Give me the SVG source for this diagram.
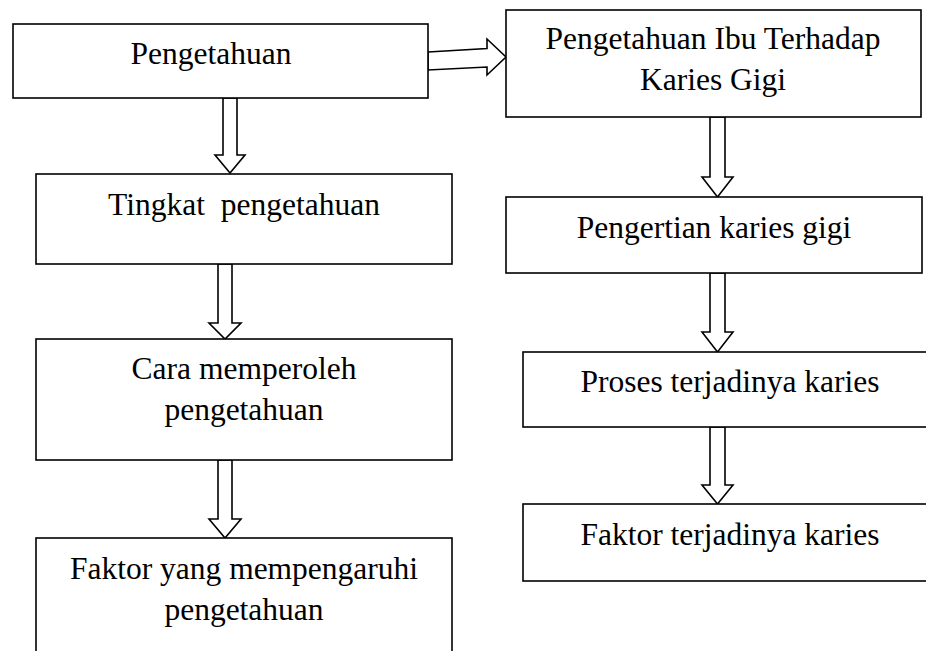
<svg xmlns="http://www.w3.org/2000/svg" width="926" height="651" viewBox="0 0 926 651">
<style>
.box{fill:#fff;stroke:#000;stroke-width:1.6}
.arr{fill:#fff;stroke:#000;stroke-width:1.6;stroke-linejoin:miter}
text{font-family:"Liberation Serif","Times New Roman",serif;font-size:31.5px;fill:#000;text-anchor:middle}
</style>
<rect width="926" height="651" fill="#fff"/>
<g id="connectors">
<polygon class="arr" points="428,52 487,48.5 487,39 506,57 487,75 487,67 428,70"/>
<polygon class="arr" points="223,98 237,98 237,155 245,155 230,173 215,155 223,155"/>
<polygon class="arr" points="218,264 232,264 232,323 241,323 225,339 209,323 218,323"/>
<polygon class="arr" points="218,460 232,460 232,519 241,519 225,538 209,519 218,519"/>
<polygon class="arr" points="710,117 725,117 725,177 733,177 717.5,197 702,177 710,177"/>
<polygon class="arr" points="710,273 725,273 725,332 733,332 717.5,352 702,332 710,332"/>
<polygon class="arr" points="710,427 725,427 725,485 733,485 717.5,504 702,485 710,485"/>
</g>
<g id="n1"><rect class="box" x="13" y="24" width="415" height="74"/><text x="211" y="64">Pengetahuan</text></g>
<g id="n2"><rect class="box" x="36" y="174" width="416" height="90"/><text x="244" y="215" xml:space="preserve">Tingkat  pengetahuan</text></g>
<g id="n3"><rect class="box" x="36" y="339" width="416" height="121"/><text x="244" y="379">Cara memperoleh</text><text x="244" y="420">pengetahuan</text></g>
<g id="n4"><rect class="box" x="36" y="538" width="416" height="130"/><text x="244" y="579">Faktor yang mempengaruhi</text><text x="244" y="620">pengetahuan</text></g>
<g id="n5"><rect class="box" x="506" y="10" width="415" height="107"/><text x="713" y="49">Pengetahuan Ibu Terhadap</text><text x="713" y="90">Karies Gigi</text></g>
<g id="n6"><rect class="box" x="506" y="197" width="416" height="76"/><text x="714" y="238">Pengertian karies gigi</text></g>
<g id="n7"><rect class="box" x="523" y="352" width="420" height="75"/><text x="730" y="392">Proses terjadinya karies</text></g>
<g id="n8"><rect class="box" x="523" y="504" width="420" height="77"/><text x="730" y="545">Faktor terjadinya karies</text></g>
</svg>
